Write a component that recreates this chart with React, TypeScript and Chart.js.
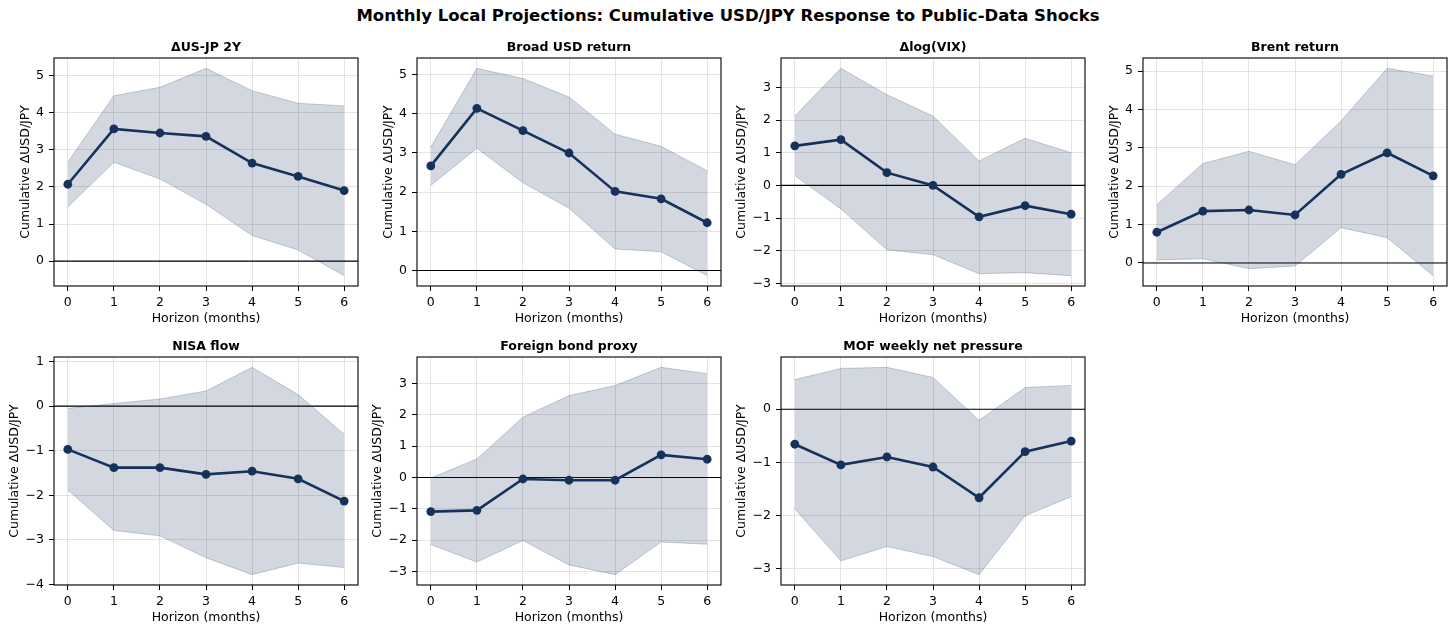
import React, { useEffect, useRef } from "react";
import { Chart, registerables } from "chart.js";

Chart.register(...registerables);

// ---------------- data ----------------
const horizons = [0, 1, 2, 3, 4, 5, 6];

const suptitle = "Monthly Local Projections: Cumulative USD/JPY Response to Public-Data Shocks";
const yAxisLabel = "Cumulative ΔUSD/JPY";
const xAxisLabel = "Horizon (months)";

const panelTitles = [
  "ΔUS-JP 2Y",
  "Broad USD return",
  "Δlog(VIX)",
  "Brent return",
  "NISA flow",
  "Foreign bond proxy",
  "MOF weekly net pressure",
];

const usjpMean = [2.07, 3.56, 3.45, 3.36, 2.64, 2.28, 1.9];
const usjpUpper = [2.67, 4.45, 4.68, 5.19, 4.59, 4.25, 4.18];
const usjpLower = [1.46, 2.66, 2.21, 1.53, 0.69, 0.3, -0.39];

const broadMean = [2.67, 4.14, 3.57, 3.0, 2.02, 1.83, 1.22];
const broadUpper = [3.15, 5.16, 4.9, 4.43, 3.48, 3.17, 2.55];
const broadLower = [2.17, 3.12, 2.24, 1.59, 0.55, 0.48, -0.13];

const vixMean = [1.21, 1.4, 0.39, 0.0, -0.96, -0.62, -0.88];
const vixUpper = [2.12, 3.58, 2.77, 2.12, 0.75, 1.44, 1.0];
const vixLower = [0.3, -0.72, -1.97, -2.12, -2.7, -2.67, -2.76];

const brentMean = [0.8, 1.35, 1.38, 1.25, 2.31, 2.87, 2.27];
const brentUpper = [1.52, 2.59, 2.91, 2.56, 3.7, 5.07, 4.87];
const brentLower = [0.08, 0.11, -0.15, -0.08, 0.92, 0.66, -0.33];

const nisaMean = [-0.97, -1.38, -1.38, -1.53, -1.46, -1.63, -2.13];
const nisaUpper = [-0.05, 0.06, 0.16, 0.34, 0.87, 0.26, -0.63];
const nisaLower = [-1.88, -2.79, -2.91, -3.4, -3.78, -3.52, -3.62];

const bondMean = [-1.09, -1.05, -0.05, -0.09, -0.09, 0.72, 0.58];
const bondUpper = [-0.02, 0.59, 1.92, 2.61, 2.93, 3.51, 3.31];
const bondLower = [-2.14, -2.7, -2.01, -2.79, -3.1, -2.06, -2.13];

const mofMean = [-0.66, -1.05, -0.9, -1.09, -1.67, -0.8, -0.6];
const mofUpper = [0.56, 0.77, 0.79, 0.6, -0.21, 0.41, 0.45];
const mofLower = [-1.88, -2.86, -2.59, -2.78, -3.12, -2.01, -1.65];

const panelMeans = [usjpMean, broadMean, vixMean, brentMean, nisaMean, bondMean, mofMean];
const panelUppers = [usjpUpper, broadUpper, vixUpper, brentUpper, nisaUpper, bondUpper, mofUpper];
const panelLowers = [usjpLower, broadLower, vixLower, brentLower, nisaLower, bondLower, mofLower];

// ---------------- layout / style ----------------
const FONT = "'DejaVu Sans', sans-serif";
const FONT_SIZE = 12.5;
const NAVY = "#17325a";
const BAND_FILL = "rgba(23,50,90,0.19)";
const BAND_EDGE = "rgba(23,50,90,0.22)";
const GRID = "rgba(176,176,176,0.34)";

const AX_W = 304;
const AX_H = 228;
const PAD_L = 54;
const PAD_T = 26;
const PAD_B = 44;
const PAD_R = 54; // empty right axis, so the panel title is centred over the plot area
const COL_LEFTS = [54, 417.3, 780.7, 1143.3];
const ROW_TOPS = [58, 357];

const fmtTick = (v: number) => (v < 0 ? "\u2212" + Math.abs(v) : String(v));

const framePlugin = {
  id: "frameAndZero",
  beforeDatasetsDraw(chart: any) {
    const { ctx, chartArea, scales } = chart;
    const y0 = scales.y.getPixelForValue(0);
    ctx.save();
    ctx.strokeStyle = "#000";
    ctx.lineWidth = 1.1;
    ctx.beginPath();
    ctx.moveTo(chartArea.left, y0);
    ctx.lineTo(chartArea.right, y0);
    ctx.stroke();
    ctx.restore();
  },
  afterDraw(chart: any) {
    const { ctx, chartArea } = chart;
    ctx.save();
    ctx.strokeStyle = "#000";
    ctx.lineWidth = 1.1;
    ctx.strokeRect(
      chartArea.left,
      chartArea.top,
      chartArea.right - chartArea.left,
      chartArea.bottom - chartArea.top
    );
    ctx.restore();
  },
};

type PanelProps = {
  title: string;
  mean: number[];
  upper: number[];
  lower: number[];
  left: number;
  top: number;
};

function Panel({ title, mean, upper, lower, left, top }: PanelProps) {
  const ref = useRef<HTMLCanvasElement | null>(null);

  useEffect(() => {
    if (!ref.current) return;
    const all = [...mean, ...upper, ...lower];
    const lo = Math.min(...all);
    const hi = Math.max(...all);
    const m = (hi - lo) * 0.05;
    const yMin = lo - m;
    const yMax = hi + m;

    // widest y tick label -> y-axis title placement (like matplotlib's labelpad)
    const mctx = document.createElement("canvas").getContext("2d")!;
    mctx.font = `${FONT_SIZE}px ${FONT}`;
    let widest = 0;
    for (let v = Math.ceil(yMin); v <= Math.floor(yMax); v++) {
      widest = Math.max(widest, mctx.measureText(fmtTick(v)).width);
    }
    const titleCenter = PAD_L - 9.7 - widest - 11;
    const yTitlePad = Math.max(0, titleCenter - (FONT_SIZE * 1.2) / 2);

    const pts = (arr: number[]) => arr.map((v, i) => ({ x: horizons[i], y: v }));

    const chart = new Chart(ref.current, {
      type: "line",
      data: {
        datasets: [
          {
            data: pts(mean),
            borderColor: NAVY,
            backgroundColor: NAVY,
            borderWidth: 2.6,
            pointRadius: 4.4,
            pointBorderWidth: 0,
            pointBackgroundColor: NAVY,
            fill: false,
            tension: 0,
            order: 0,
          },
          {
            data: pts(upper),
            borderColor: BAND_EDGE,
            borderWidth: 1,
            pointRadius: 0,
            fill: false,
            tension: 0,
            order: 2,
          },
          {
            data: pts(lower),
            borderColor: BAND_EDGE,
            backgroundColor: BAND_FILL,
            borderWidth: 1,
            pointRadius: 0,
            fill: "-1",
            tension: 0,
            order: 1,
          },
        ],
      } as any,
      options: {
        animation: false,
        responsive: false,
        devicePixelRatio: 1,
        layout: { padding: 0 },
        plugins: {
          legend: { display: false },
          tooltip: { enabled: false },
          title: {
            display: true,
            text: title,
            color: "#000",
            font: { family: FONT, size: FONT_SIZE, weight: "bold", lineHeight: 1.2 },
            padding: { top: 8, bottom: 3 },
          },
        },
        scales: {
          x: {
            type: "linear",
            min: -0.3,
            max: 6.3,
            afterFit: (s: any) => {
              s.height = PAD_B;
            },
            ticks: {
              stepSize: 1,
              includeBounds: false,
              color: "#000",
              font: { family: FONT, size: FONT_SIZE },
              padding: 4,
              maxRotation: 0,
            },
            grid: {
              color: GRID,
              lineWidth: 1,
              tickColor: "#000",
              tickLength: 5,
            },
            border: { display: false },
            title: {
              display: true,
              text: xAxisLabel,
              color: "#000",
              font: { family: FONT, size: FONT_SIZE, lineHeight: 1.2 },
              padding: { top: 0, bottom: 4 },
            },
          },
          y: {
            type: "linear",
            position: "left",
            min: yMin,
            max: yMax,
            afterFit: (s: any) => {
              s.width = PAD_L;
            },
            ticks: {
              stepSize: 1,
              includeBounds: false,
              color: "#000",
              font: { family: FONT, size: FONT_SIZE },
              padding: 5,
              callback: (v: any) => fmtTick(Number(v)),
            },
            grid: {
              color: GRID,
              lineWidth: 1,
              tickColor: "#000",
              tickLength: 5,
            },
            border: { display: false },
            title: {
              display: true,
              text: yAxisLabel,
              color: "#000",
              font: { family: FONT, size: FONT_SIZE, lineHeight: 1.2 },
              padding: { top: yTitlePad, bottom: 0 },
            },
          },
          spacer: {
            type: "linear",
            position: "right",
            display: true,
            afterFit: (s: any) => {
              s.width = PAD_R;
            },
            ticks: { display: false },
            grid: { display: false, drawTicks: false },
            border: { display: false },
          },
        },
      } as any,
      plugins: [framePlugin],
    });
    return () => chart.destroy();
  }, [title, mean, upper, lower]);

  const w = PAD_L + AX_W + PAD_R;
  const h = PAD_T + AX_H + PAD_B;
  return (
    <canvas
      ref={ref}
      width={w}
      height={h}
      style={{
        position: "absolute",
        left: left - PAD_L,
        top: top - PAD_T,
        width: w,
        height: h,
      }}
    />
  );
}

export default function App() {
  return (
    <div
      style={{
        position: "fixed",
        left: 0,
        top: 0,
        width: 1456,
        height: 632,
        background: "#fff",
        overflow: "hidden",
      }}
    >
      <div
        style={{
          position: "absolute",
          left: 0,
          top: 5.6,
          width: 1456,
          textAlign: "center",
          fontFamily: FONT,
          fontWeight: "bold",
          fontSize: 16.5,
          lineHeight: "20px",
          color: "#000",
          whiteSpace: "nowrap",
        }}
      >
        {suptitle}
      </div>
      {panelTitles.map((t, i) => (
        <Panel
          key={t}
          title={t}
          mean={panelMeans[i]}
          upper={panelUppers[i]}
          lower={panelLowers[i]}
          left={COL_LEFTS[i % 4]}
          top={ROW_TOPS[Math.floor(i / 4)]}
        />
      ))}
    </div>
  );
}
